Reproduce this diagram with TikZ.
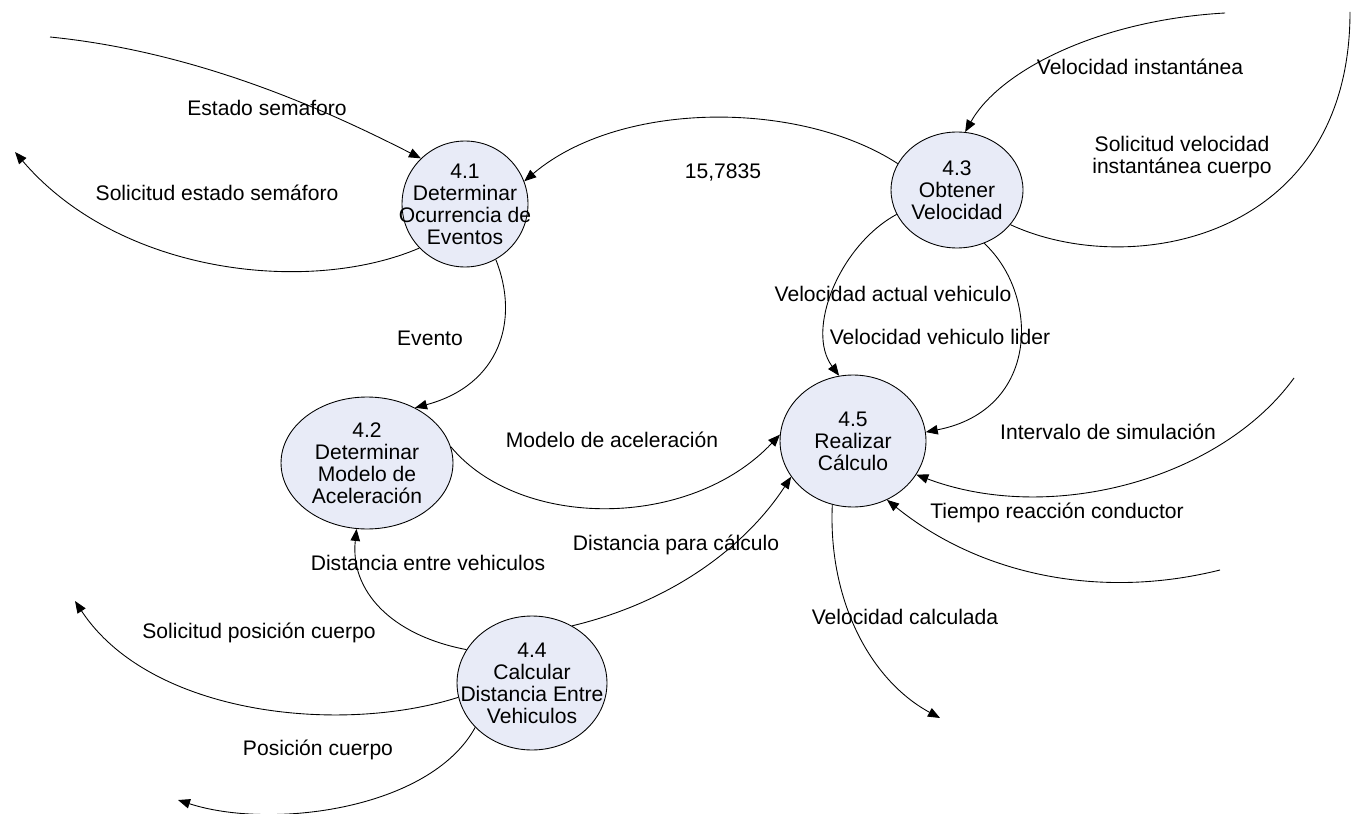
\documentclass[tikz,border=0pt]{standalone}
\usepackage{fontspec}
\setmainfont{Liberation Sans}
\usetikzlibrary{shapes.geometric,arrows.meta}
\definecolor{procfill}{RGB}{232,235,247}
\begin{document}
\begin{tikzpicture}[>={Triangle[length=2.4mm,width=1.9mm]}, x=0.02cm, y=-0.02cm,
  proc/.style={draw, ellipse, fill=procfill, inner sep=0pt, line width=0.5pt},
  txt/.style={font=\fontsize{12}{12.5}\selectfont, align=center, inner sep=0pt},
  flow/.style={->, line width=0.5pt}]
\useasboundingbox (0,0) rectangle (1355,814);

\node[proc, minimum width=2.52cm, minimum height=2.52cm,
  label={[txt]center:4.1\\Determinar\\Ocurrencia de\\Eventos}] (p41) at (465,204) {};
\node[proc, minimum width=3.44cm, minimum height=2.64cm,
  label={[txt]center:4.2\\Determinar\\Modelo de\\Aceleración}] (p42) at (367,463) {};
\node[proc, minimum width=2.64cm, minimum height=2.32cm,
  label={[txt]center:4.3\\Obtener\\Velocidad}] (p43) at (957,190) {};
\node[proc, minimum width=3.0cm, minimum height=2.68cm,
  label={[txt]center:4.4\\Calcular\\Distancia Entre\\Vehiculos}] (p44) at (532,683) {};
\node[proc, minimum width=2.92cm, minimum height=2.64cm,
  label={[txt]center:4.5\\Realizar\\Cálculo}] (p45) at (853,441) {};

\coordinate (semaforo) at (50,37);
\coordinate (solsemaforo) at (15,152);
\coordinate (velinst) at (1225,13);
\coordinate (solvelinst) at (1350,12);
\coordinate (intervalo) at (1294,378);
\coordinate (tiempo) at (1220,570);
\coordinate (velcalc) at (940,718);
\coordinate (solposicion) at (75,601);
\coordinate (posicion) at (178,800);

\draw[flow] (semaforo) .. controls (200,52) and (330,112) .. (p41.134);
\draw[flow] (p41.224) .. controls (310,295) and (120,275) .. (solsemaforo);
\draw[flow] (p43.156) .. controls (800,100) and (620,100) .. (p41.21);
\draw[flow] (velinst) .. controls (1100,20) and (1000,70) .. (p43.82);
\draw[line width=0.5pt] (p43.-33) .. controls (1130,280) and (1350,240) .. (solvelinst);
\draw[flow] (p43.202) .. controls (840,245) and (805,330) .. (p45.102);
\draw[flow] (p43.297) .. controls (1040,295) and (1040,410) .. (p45.7);
\draw[flow] (intervalo) .. controls (1220,480) and (1050,525) .. (p45.332);
\draw[flow] (tiempo) .. controls (1100,600) and (980,575) .. (p45.300);
\draw[flow] (p45.252) .. controls (828,600) and (870,680) .. (velcalc);
\draw[flow] (p42.11) .. controls (520,530) and (690,530) .. (p45.175);
\draw[flow] (p44.55) .. controls (680,600) and (750,540) .. (p45.210);
\draw[flow] (p44.153) .. controls (390,635) and (350,590) .. (p42.261);
\draw[flow] (p44.191) .. controls (340,735) and (150,715) .. (solposicion);
\draw[flow] (p44.218) .. controls (430,810) and (270,830) .. (posicion);
\draw[flow] (p41.299) .. controls (520,320) and (500,385) .. (p42.49);

\node[txt] (l1) at (267,108) {Estado semaforo};
\node[txt] (l2) at (217,193) {Solicitud estado semáforo};
\node[txt] (l3) at (723,172) {15,7835};
\node[txt] (l4) at (1140,67) {Velocidad instantánea};
\node[txt] (l5) at (1182,157) {Solicitud velocidad\\instantánea cuerpo};
\node[txt] (l6) at (893,294) {Velocidad actual vehiculo};
\node[txt] (l7) at (940,337) {Velocidad vehiculo lider};
\node[txt] (l8) at (430,338) {Evento};
\node[txt] (l9) at (612,440) {Modelo de aceleración};
\node[txt] (l10) at (1108,432) {Intervalo de simulación};
\node[txt] (l11) at (1057,513) {Tiempo reacción conductor};
\node[txt] (l12) at (676,545) {Distancia para cálculo};
\node[txt] (l13) at (428,563) {Distancia entre vehiculos};
\node[txt] (l14) at (905,617) {Velocidad calculada};
\node[txt] (l15) at (259,633) {Solicitud posición cuerpo};
\node[txt] (l16) at (318,750) {Posición cuerpo};
\end{tikzpicture}
\end{document}
